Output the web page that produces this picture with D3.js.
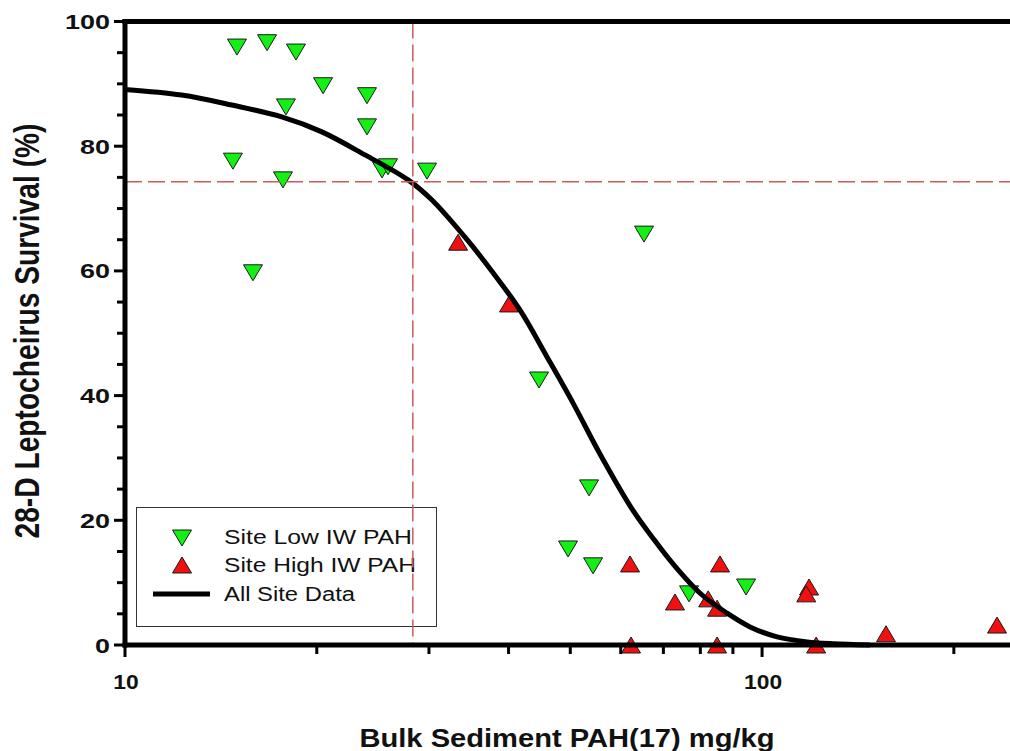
<!DOCTYPE html>
<html>
<head>
<meta charset="utf-8">
<script src="https://cdn.jsdelivr.net/npm/d3@7"></script>
<style>
  body { margin: 0; background: #fff; }
  svg { display: block; }
  text { font-family: "Liberation Sans", Arial, sans-serif; fill: #111; }
</style>
</head>
<body>
<script>
/***********************************************************************************/
// Data

var lowX = [14.99, 16.71, 18.55, 20.46, 17.89, 14.77, 17.70, 23.98, 23.98, 25.32, 25.87,
            29.79, 65.27, 15.88, 44.66, 53.51, 49.60, 54.29, 76.81, 94.38];
var lowY = [95.9, 96.6, 95.1, 89.7, 86.3, 77.6, 74.6, 88.1, 83.1, 76.2, 76.7,
            76.0, 65.9, 59.7, 42.5, 25.2, 15.4, 12.7, 8.2, 9.3];

var highX = [33.33, 40.07, 62.05, 62.27, 73.0, 82.3, 85.0, 85.9, 85.0, 118.5, 117.3, 121.6, 156.5, 233.8];
var highY = [64.6, 54.7, 13.0, 0.0, 6.9, 7.4, 5.9, 13.0, 0.0, 9.3, 8.2, 0.0, 1.8, 3.2];

var fitX = [10.0, 12.27, 14.71, 17.62, 20.37, 23.81, 27.82, 30.30, 34.43, 37.82, 41.70,
            45.97, 50.50, 55.69, 62.52, 67.45, 72.48, 79.93, 88.13, 95.76,
            105.6, 117.7, 129.2, 147.7];
var fitY = [89.1, 88.2, 86.6, 84.7, 82.3, 78.6, 74.6, 71.4, 65.0, 59.7, 53.7,
            46.2, 38.8, 30.6, 21.8, 17.1, 13.0, 8.3, 5.1, 2.9,
            1.3, 0.5, 0.2, 0.0];

var refX = 28.3, refY = 74.3;

var xMajorTicks = [10, 100];
var xMinorTicks = [20, 30, 40, 50, 60, 70, 80, 90, 200];
var yMajorTicks = [0, 20, 40, 60, 80, 100];
var yMinorTicks = [5, 10, 15, 25, 30, 35, 45, 50, 55, 65, 70, 75, 85, 90, 95];

var legendLabels = ['Site Low IW PAH', 'Site High IW PAH', 'All Site Data'];

/***********************************************************************************/
// Setup

var W = 1010, H = 751;
var xMin = 10, xMax = 245;
var svg = d3.select('body').append('svg').attr('width', W).attr('height', H);

var x = d3.scaleLog().domain([xMin, xMax]).range([125, 1010]);
var y = d3.scaleLinear().domain([0, 100]).range([645, 21.5]);

var GREEN = '#14f014', RED = '#f01010', DASH = '#cc5a5a';

function tri(cx, cy, up){
  var w = 19, h = 16;
  if(up) return 'M' + cx + ',' + (cy - h/2) + 'L' + (cx + w/2) + ',' + (cy + h/2) + 'L' + (cx - w/2) + ',' + (cy + h/2) + 'Z';
  return 'M' + (cx - w/2) + ',' + (cy - h/2) + 'L' + (cx + w/2) + ',' + (cy - h/2) + 'L' + cx + ',' + (cy + h/2) + 'Z';
}

/***********************************************************************************/
// Markers

svg.append('g').selectAll('path').data(d3.range(lowX.length)).enter().append('path')
  .attr('d', function(i){ return tri(x(lowX[i]), y(lowY[i]), false); })
  .attr('fill', GREEN).attr('stroke', '#1a1a1a').attr('stroke-width', 1);

svg.append('g').selectAll('path').data(d3.range(highX.length)).enter().append('path')
  .attr('d', function(i){ return tri(x(highX[i]), y(highY[i]), true); })
  .attr('fill', RED).attr('stroke', '#1a1a1a').attr('stroke-width', 1);

/***********************************************************************************/
// Fit curve

var line = d3.line()
  .x(function(i){ return x(fitX[i]); })
  .y(function(i){ return y(fitY[i]); })
  .curve(d3.curveCatmullRom.alpha(0.5));

svg.append('path').datum(d3.range(fitX.length)).attr('d', line)
  .attr('fill', 'none').attr('stroke', '#000').attr('stroke-width', 5).attr('stroke-linejoin', 'round');

/***********************************************************************************/
// Legend

var lg = svg.append('g');
lg.append('rect').attr('x', 136.5).attr('y', 507.5).attr('width', 300).attr('height', 119)
  .attr('fill', 'none').attr('stroke', '#333').attr('stroke-width', 1);
lg.append('path').attr('d', tri(182, 538, false)).attr('fill', GREEN).attr('stroke', '#1a1a1a');
lg.append('path').attr('d', tri(182, 565, true)).attr('fill', RED).attr('stroke', '#1a1a1a');
lg.append('line').attr('x1', 153).attr('x2', 210).attr('y1', 594).attr('y2', 594)
  .attr('stroke', '#000').attr('stroke-width', 5);
var legW = [188, 192, 131];
lg.selectAll('text').data(legendLabels).enter().append('text')
  .attr('x', 224).attr('y', function(d, i){ return 543.5 + i*28.5; })
  .attr('font-size', 20).attr('textLength', function(d, i){ return legW[i]; })
  .attr('lengthAdjust', 'spacingAndGlyphs')
  .text(function(d){ return d; });

/***********************************************************************************/
// Reference lines

svg.append('line').attr('x1', x(refX)).attr('x2', x(refX)).attr('y1', y(100)).attr('y2', y(0))
  .attr('stroke', DASH).attr('stroke-width', 1.5).attr('stroke-dasharray', '17,6');
svg.append('line').attr('x1', x(xMin)).attr('x2', x(xMax)).attr('y1', y(refY)).attr('y2', y(refY))
  .attr('stroke', DASH).attr('stroke-width', 1.5).attr('stroke-dasharray', '17,6');

/***********************************************************************************/
// Axes

var ax = svg.append('g').attr('stroke', '#000');
ax.append('line').attr('x1', x(xMin) - 2.5).attr('x2', W).attr('y1', y(0)).attr('y2', y(0)).attr('stroke-width', 5);
ax.append('line').attr('x1', x(xMin) - 2.5).attr('x2', W).attr('y1', y(100)).attr('y2', y(100)).attr('stroke-width', 5);
ax.append('line').attr('x1', x(xMin)).attr('x2', x(xMin)).attr('y1', y(100) - 2.5).attr('y2', y(0) + 2.5).attr('stroke-width', 5);

ax.selectAll('.xmaj').data(xMajorTicks).enter().append('line')
  .attr('x1', x).attr('x2', x).attr('y1', y(0)).attr('y2', y(0) + 12).attr('stroke-width', 3);
ax.selectAll('.xmin').data(xMinorTicks).enter().append('line')
  .attr('x1', x).attr('x2', x).attr('y1', y(0)).attr('y2', y(0) + 9).attr('stroke-width', 3);
ax.selectAll('.ymaj').data(yMajorTicks).enter().append('line')
  .attr('x1', x(xMin) - 11).attr('x2', x(xMin)).attr('y1', y).attr('y2', y).attr('stroke-width', 3);
ax.selectAll('.ymin').data(yMinorTicks).enter().append('line')
  .attr('x1', x(xMin) - 8).attr('x2', x(xMin)).attr('y1', y).attr('y2', y).attr('stroke-width', 3);

svg.selectAll('.ylab').data(yMajorTicks).enter().append('text')
  .attr('x', 110).attr('y', function(d){ return y(d) + 7.5; })
  .attr('text-anchor', 'end').attr('font-size', 21).attr('font-weight', 'bold')
  .attr('textLength', function(d){ return String(d).length * 15; })
  .attr('lengthAdjust', 'spacingAndGlyphs')
  .text(function(d){ return d; });

svg.selectAll('.xlab').data(xMajorTicks).enter().append('text')
  .attr('x', function(d){ return x(d) + 1; }).attr('y', 689)
  .attr('text-anchor', 'middle').attr('font-size', 21).attr('font-weight', 'bold')
  .attr('textLength', function(d){ return String(d).length * 12.7; })
  .attr('lengthAdjust', 'spacingAndGlyphs')
  .text(function(d){ return d; });

/***********************************************************************************/
// Titles

svg.append('text').attr('x', 567).attr('y', 747).attr('text-anchor', 'middle')
  .attr('font-size', 25).attr('font-weight', 'bold')
  .attr('textLength', 415).attr('lengthAdjust', 'spacingAndGlyphs')
  .text('Bulk Sediment PAH(17) mg/kg');

svg.append('text').attr('transform', 'translate(39,331) scale(1.3,1) rotate(-90)')
  .attr('text-anchor', 'middle').attr('font-size', 27).attr('font-weight', 'bold')
  .attr('textLength', 415).attr('lengthAdjust', 'spacingAndGlyphs')
  .text('28-D Leptocheirus Survival (%)');
</script>
</body>
</html>
